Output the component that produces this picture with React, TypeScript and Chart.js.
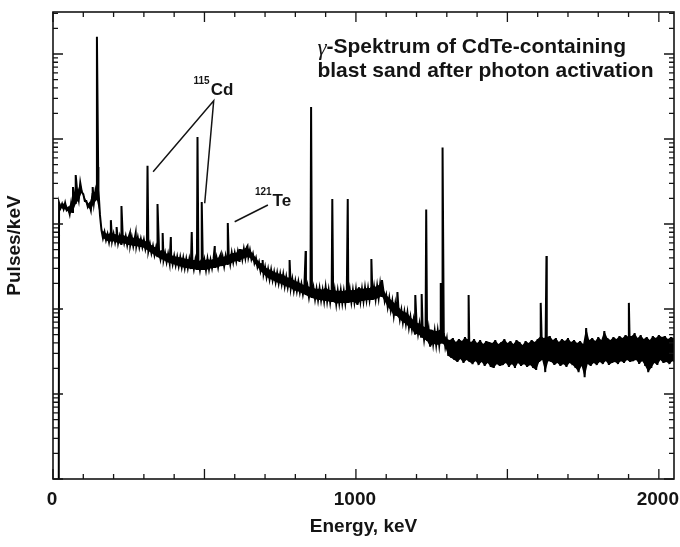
import { useEffect, useRef } from "react";
import { Chart, registerables } from "chart.js";

Chart.register(...registerables);

const FONT = "'Liberation Sans', Arial, Helvetica, sans-serif";
const GREEK_FONT = "'Liberation Serif', 'DejaVu Serif', serif";
const INK = "#141414";

// ---- axes ----
const xMin = 0;
const xMax = 2050;
const xTickLabels = [0, 1000, 2000];
const xMinorStep = 100;
const xMajorStep = 500;
const yMin = 1;
const yMax = 312000;

// ---- spectrum: low-energy cut-off ----
const cutoffEnergy = [19];
const cutoffPulses = [0.5];

// ---- spectrum continuum, read as band top / band bottom every 10 keV from 20 keV ----
const bandStart = 20;
const bandStep = 10;
const bandTop = [
  1770, 1720, 1770, 1540, 1770, 2140, 2380, 3040, 2250, 1870, 1720, 2250, 2440, 2510, 850, 805, 760, 785, 765, 760,
  720, 745, 720, 705, 700, 685, 690, 665, 650, 615, 580, 550, 525, 495, 480, 455, 445, 430, 420, 410,
  405, 398, 388, 385, 377, 378, 367, 377, 375, 387, 377, 388, 398, 410, 408, 420, 432, 456, 455, 468,
  494, 508, 536, 494, 444, 398, 357, 338, 312, 295, 288, 272, 265, 258, 255, 238, 231, 225, 213, 208,
  197, 191, 186, 181, 177, 172, 174, 167, 180, 167, 169, 166, 163, 165, 162, 170, 167, 166, 168, 180,
  171, 177, 175, 178, 181, 186, 197, 172, 146, 135, 124, 115, 106, 97, 92, 90, 80, 74, 70, 67,
  63, 61, 58, 57, 55, 55, 58, 52, 44.4,
  43.2, 45.6, 40.9, 44.4, 42.0, 46.9, 43.2, 40.9, 44.4, 39.8, 43.2, 38.8, 42.0, 40.9, 39.8, 43.2, 38.8, 40.9, 44.4, 39.8,
  42.0, 38.8, 43.2, 40.9, 37.7, 42.0, 39.8, 43.2, 40.9, 44.4, 48.1, 45.6, 46.9, 48.1, 43.2, 45.6, 40.9, 44.4, 42.0, 45.6,
  40.9, 43.2, 39.8, 42.0, 38.8, 59.8, 43.2, 45.6, 42.0, 46.9, 43.2, 55.0, 45.6, 43.2, 46.9, 44.4, 48.1, 45.6, 49.5, 46.9,
  48.1, 52.0, 45.6, 49.5, 44.4, 46.9, 43.2, 48.1, 45.6, 49.5, 46.9, 48.1, 44.4, 46.9, 45.6,
];
const bandBottom = [
  1540, 1500, 1460, 1310, 1380, 1720, 1920, 2380, 1870, 1590, 1460, 1770, 1920, 1280, 684, 648, 614, 631, 614, 597,
  582, 597, 566, 566, 551, 551, 536, 536, 508, 481, 456, 432, 409, 387, 377, 357, 348, 338, 329, 320,
  312, 304, 304, 295, 295, 288, 288, 288, 288, 295, 304, 304, 312, 320, 320, 338, 338, 357, 367, 367,
  387, 398, 409, 387, 348, 312, 280, 258, 238, 225, 219, 208, 202, 197, 186, 181, 177, 165, 163, 158,
  150, 146, 138, 135, 131, 128, 128, 124, 124, 121, 121, 115, 118, 118, 118, 118, 121, 121, 112, 124,
  124, 128, 128, 128, 131, 135, 142, 124, 106, 97, 84, 83, 76, 70, 67, 61, 58, 50, 51, 47,
  44, 42, 36, 39, 38, 38, 40, 36, 28,
  26.5, 25.1, 23.8, 25.8, 23.2, 25.1, 23.8, 22.5, 24.4, 21.9, 23.8, 21.4, 23.2, 20.8, 20.2, 22.5, 21.4, 21.9, 23.2, 20.8,
  22.5, 20.2, 23.2, 21.4, 22.5, 20.8, 21.9, 20.2, 19.2, 23.8, 25.1, 18.1, 24.4, 23.8, 21.9, 23.2, 21.4, 22.5, 20.8, 23.2,
  21.9, 20.2, 18.1, 21.4, 15.8, 22.5, 21.4, 23.2, 21.9, 23.8, 22.5, 24.4, 21.9, 23.2, 23.8, 22.5, 24.4, 23.2, 25.1, 23.8,
  24.4, 25.1, 22.5, 24.4, 21.4, 18.1, 20.2, 23.2, 21.9, 25.1, 23.2, 23.8, 22.5, 24.4, 23.2,
];

// ---- gamma lines (peak energy, keV / peak height, pulses/keV) ----
const peakEnergy = [
  66, 75, 131, 145, 149, 191, 210, 226, 254, 273, 312, 345, 362, 389, 458, 477, 491, 534, 554, 577,
  616, 642, 692, 781, 834, 852, 922, 973, 1051, 1086, 1137, 1196, 1217, 1232, 1280, 1286, 1372, 1610, 1629, 1901,
];
const peakPulses = [
  2720, 3770, 2720, 159800, 4680, 1110, 920, 1630, 783, 783, 4850, 1720, 783, 703, 805, 10560, 1815, 551, 444, 1027,
  494, 551, 377, 377, 481, 23800, 1970, 1970, 387, 219, 158, 146, 150, 1480, 202, 7940, 146, 118, 420, 118,
];

// ---- annotations (anchored in data coordinates) ----
const noteGreek = "\u03b3";
const noteText = ["-Spektrum of CdTe-containing", "blast sand after photon activation"];
const noteEnergy = 873;
const notePulses = [119300, 62230];

const cdIsotope = "115";
const cdSymbol = "Cd";
const cdLabelEnergy = [517, 520.6];
const cdLabelPulses = [48100, 37700];
const cdPointerEnergy = [330.5, 530.5, 500.8];
const cdPointerPulses = [4124, 28220, 1752];

const teIsotope = "121";
const teSymbol = "Te";
const teLabelEnergy = [721.6, 724.9];
const teLabelPulses = [2380, 1865];
const tePointerEnergy = [599.7, 709.4];
const tePointerPulses = [1064, 1673];

function buildSpectrum() {
  const pts: { x: number; y: number }[] = [];
  cutoffEnergy.forEach((e, i) => pts.push({ x: e, y: cutoffPulses[i] }));
  bandTop.forEach((top, i) => {
    const e = bandStart + i * bandStep;
    pts.push({ x: e, y: top });
    pts.push({ x: e + bandStep / 2, y: bandBottom[i] });
  });
  peakEnergy.forEach((e, i) => pts.push({ x: e, y: peakPulses[i] }));
  pts.sort((a, b) => a.x - b.x);
  return pts;
}

const bandTopPoints = () => bandTop.map((v, i) => ({ x: bandStart + i * bandStep, y: v }));
const bandBottomPoints = () => bandBottom.map((v, i) => ({ x: bandStart + i * bandStep + bandStep / 2, y: v }));

const framePlugin = {
  id: "frameTicks",
  afterDraw(chart: any) {
    const { ctx, chartArea: a, scales } = chart;
    const x = scales.x;
    const y = scales.y;
    ctx.save();
    ctx.strokeStyle = INK;
    ctx.lineWidth = 1.6;
    ctx.strokeRect(a.left, a.top, a.right - a.left, a.bottom - a.top);
    ctx.lineWidth = 1.3;
    ctx.beginPath();
    for (let v = xMin; v <= xMax; v += xMinorStep) {
      const px = x.getPixelForValue(v);
      const len = v % xMajorStep === 0 ? 10 : 5;
      ctx.moveTo(px, a.bottom);
      ctx.lineTo(px, a.bottom - len);
      ctx.moveTo(px, a.top);
      ctx.lineTo(px, a.top + len);
    }
    for (let d = yMin; d <= yMax; d *= 10) {
      for (let m = 1; m <= 9; m++) {
        const v = d * m;
        if (v > yMax) break;
        const py = y.getPixelForValue(v);
        const len = m === 1 ? 10 : 5;
        ctx.moveTo(a.left, py);
        ctx.lineTo(a.left + len, py);
        ctx.moveTo(a.right, py);
        ctx.lineTo(a.right - len, py);
      }
    }
    ctx.stroke();

    // annotations
    ctx.fillStyle = INK;
    ctx.textBaseline = "middle";
    ctx.textAlign = "left";
    const nx = x.getPixelForValue(noteEnergy);
    ctx.font = `italic 23px ${GREEK_FONT}`;
    const gw = ctx.measureText(noteGreek).width;
    ctx.fillText(noteGreek, nx, y.getPixelForValue(notePulses[0]) + 1);
    ctx.font = `bold 21px ${FONT}`;
    ctx.fillText(noteText[0], nx + gw, y.getPixelForValue(notePulses[0]));
    ctx.fillText(noteText[1], nx, y.getPixelForValue(notePulses[1]));

    const label = (iso: string, sym: string, le: number[], lp: number[]) => {
      ctx.font = `bold 10px ${FONT}`;
      ctx.textAlign = "right";
      ctx.fillText(iso, x.getPixelForValue(le[0]), y.getPixelForValue(lp[0]));
      ctx.font = `bold 17px ${FONT}`;
      ctx.textAlign = "left";
      ctx.fillText(sym, x.getPixelForValue(le[1]), y.getPixelForValue(lp[1]));
    };
    label(cdIsotope, cdSymbol, cdLabelEnergy, cdLabelPulses);
    label(teIsotope, teSymbol, teLabelEnergy, teLabelPulses);

    ctx.lineWidth = 1.5;
    ctx.beginPath();
    ctx.moveTo(x.getPixelForValue(cdPointerEnergy[0]), y.getPixelForValue(cdPointerPulses[0]));
    ctx.lineTo(x.getPixelForValue(cdPointerEnergy[1]), y.getPixelForValue(cdPointerPulses[1]));
    ctx.lineTo(x.getPixelForValue(cdPointerEnergy[2]), y.getPixelForValue(cdPointerPulses[2]));
    ctx.moveTo(x.getPixelForValue(tePointerEnergy[0]), y.getPixelForValue(tePointerPulses[0]));
    ctx.lineTo(x.getPixelForValue(tePointerEnergy[1]), y.getPixelForValue(tePointerPulses[1]));
    ctx.stroke();
    ctx.restore();
  },
};

export default function App() {
  const canvasRef = useRef<HTMLCanvasElement | null>(null);

  useEffect(() => {
    const canvas = canvasRef.current;
    if (!canvas) return;
    const chart = new Chart(canvas, {
      type: "line",
      data: {
        datasets: [
          {
            data: buildSpectrum(),
            borderColor: "#000",
            borderWidth: 2,
            pointRadius: 0,
            tension: 0,
            fill: false,
          },
          {
            data: bandTopPoints(),
            borderWidth: 0,
            borderColor: "rgba(0,0,0,0)",
            backgroundColor: "#000",
            pointRadius: 0,
            tension: 0,
            fill: "+1",
          },
          {
            data: bandBottomPoints(),
            borderWidth: 0,
            borderColor: "rgba(0,0,0,0)",
            pointRadius: 0,
            tension: 0,
            fill: false,
          },
        ],
      },
      options: {
        animation: false,
        responsive: false,
        maintainAspectRatio: false,
        layout: { padding: { left: 0, right: 6, top: 12, bottom: 0 } },
        plugins: { legend: { display: false }, tooltip: { enabled: false } },
        scales: {
          x: {
            type: "linear",
            min: xMin,
            max: xMax,
            grid: { display: false, drawTicks: false },
            border: { display: false },
            afterBuildTicks: (s: any) => {
              s.ticks = xTickLabels.map((v) => ({ value: v }));
            },
            afterFit: (s: any) => {
              s.paddingLeft = 0;
              s.paddingRight = 0;
            },
            ticks: {
              color: INK,
              font: { family: FONT, size: 19, weight: "bold" },
              padding: 9.6,
              labelOffset: -1,
              maxRotation: 0,
              autoSkip: false,
              callback: (v: any) => String(v),
            },
            title: {
              display: true,
              text: "Energy, keV",
              color: INK,
              font: { family: FONT, size: 19, weight: "bold" },
              padding: { top: -5.4, bottom: 8.6 },
            },
          },
          y: {
            type: "logarithmic",
            min: yMin,
            max: yMax,
            grid: { display: false, drawTicks: false },
            border: { display: false },
            ticks: { display: false },
            title: {
              display: true,
              text: "Pulses/keV",
              color: INK,
              font: { family: FONT, size: 19, weight: "bold" },
              padding: { top: 3.6, bottom: 26.6 },
            },
          },
        },
      } as any,
      plugins: [framePlugin],
    });
    return () => chart.destroy();
  }, []);

  return (
    <div style={{ position: "absolute", left: 0, top: 0, width: 680, height: 547, background: "#fff" }}>
      <canvas ref={canvasRef} width={680} height={547} style={{ display: "block" }} />
    </div>
  );
}
